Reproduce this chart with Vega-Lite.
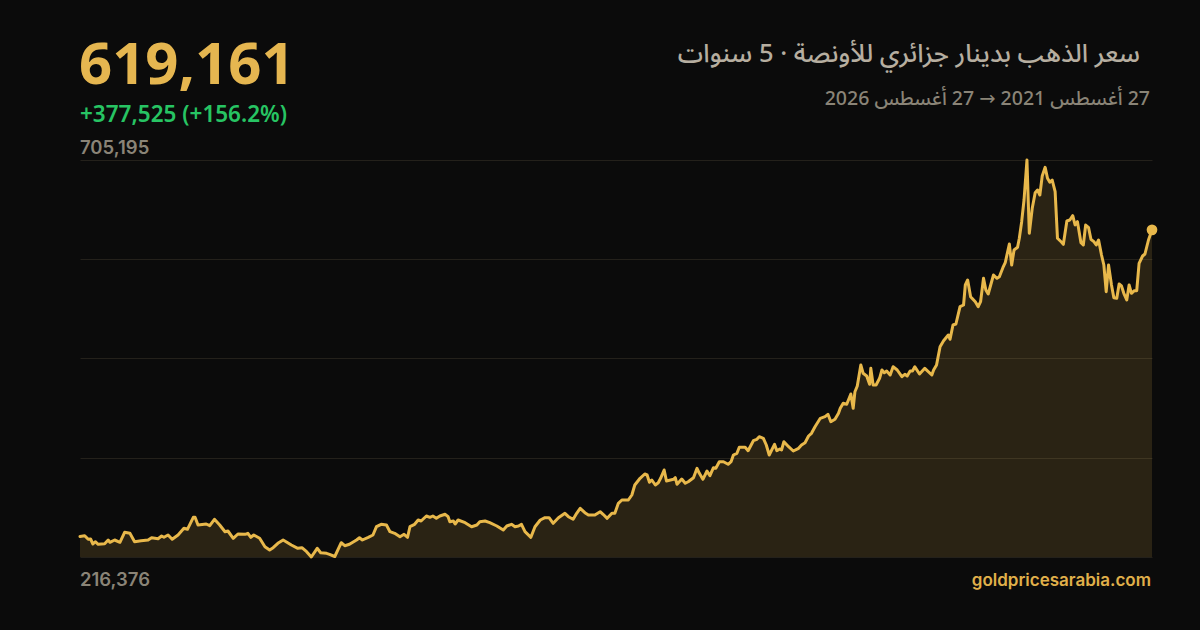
{
  "$schema": "https://vega.github.io/schema/vega-lite/v6.json",
  "width": 1072,
  "height": 397,
  "autosize": {"type": "none"},
  "padding": {"left": 80, "top": 160, "right": 48, "bottom": 73},
  "background": "#0b0b0b",
  "config": {"view": {"stroke": null}},
  "datasets": {
    "series": [
      {"day":0,"price":241636},{"day":8,"price":242602},{"day":14,"price":238170},{"day":18,"price":238539},{"day":22,"price":232383},{"day":26,"price":235215},{"day":31,"price":232013},{"day":42,"price":232752},{"day":48,"price":237308},{"day":51,"price":234476},{"day":59,"price":237308},{"day":68,"price":234476},{"day":76,"price":246789},{"day":85,"price":245557},{"day":93,"price":235215},{"day":104,"price":236446},{"day":116,"price":237308},{"day":122,"price":240140},{"day":133,"price":238908},{"day":139,"price":242233},{"day":143,"price":240632},{"day":150,"price":243464},{"day":157,"price":238170},{"day":167,"price":243464},{"day":177,"price":251714},{"day":183,"price":250482},{"day":193,"price":265258},{"day":196,"price":265258},{"day":201,"price":255777},{"day":215,"price":257008},{"day":221,"price":254915},{"day":229,"price":262795},{"day":238,"price":255777},{"day":247,"price":247527},{"day":252,"price":248389},{"day":261,"price":239401},{"day":269,"price":244695},{"day":281,"price":244326},{"day":286,"price":245557},{"day":291,"price":240632},{"day":296,"price":243464},{"day":306,"price":239401},{"day":315,"price":229058},{"day":323,"price":224995},{"day":329,"price":227827},{"day":337,"price":233245},{"day":346,"price":237308},{"day":351,"price":235215},{"day":360,"price":231151},{"day":371,"price":227088},{"day":378,"price":227827},{"day":386,"price":222902},{"day":394,"price":216376},{"day":404,"price":227088},{"day":410,"price":221671},{"day":420,"price":220932},{"day":425,"price":219700},{"day":434,"price":216992},{"day":445,"price":233983},{"day":451,"price":230289},{"day":459,"price":232013},{"day":471,"price":237308},{"day":476,"price":240140},{"day":481,"price":237308},{"day":491,"price":240632},{"day":499,"price":243464},{"day":505,"price":253684},{"day":513,"price":256639},{"day":522,"price":255777},{"day":528,"price":247527},{"day":536,"price":245557},{"day":545,"price":241371},{"day":552,"price":244326},{"day":558,"price":240632},{"day":562,"price":253684},{"day":570,"price":256639},{"day":576,"price":261933},{"day":581,"price":260702},{"day":590,"price":266858},{"day":596,"price":265258},{"day":601,"price":266858},{"day":607,"price":264026},{"day":613,"price":266858},{"day":622,"price":268952},{"day":627,"price":265997},{"day":630,"price":259840},{"day":636,"price":260702},{"day":639,"price":257008},{"day":644,"price":261933},{"day":656,"price":258609},{"day":667,"price":253684},{"day":676,"price":255777},{"day":681,"price":259840},{"day":690,"price":260702},{"day":698,"price":258609},{"day":710,"price":254546},{"day":721,"price":249621},{"day":727,"price":254546},{"day":735,"price":256639},{"day":741,"price":253684},{"day":747,"price":254546},{"day":752,"price":256639},{"day":758,"price":247527},{"day":768,"price":240632},{"day":775,"price":253684},{"day":784,"price":261933},{"day":792,"price":264765},{"day":799,"price":264765},{"day":806,"price":257870},{"day":815,"price":264765},{"day":826,"price":270183},{"day":832,"price":265997},{"day":840,"price":262795},{"day":846,"price":270183},{"day":852,"price":276339},{"day":860,"price":270922},{"day":866,"price":268090},{"day":877,"price":268090},{"day":886,"price":272153},{"day":891,"price":268952},{"day":898,"price":264026},{"day":906,"price":270183},{"day":911,"price":270183},{"day":917,"price":282496},{"day":923,"price":286559},{"day":934,"price":286559},{"day":940,"price":292715},{"day":945,"price":305028},{"day":954,"price":313278},{"day":962,"price":318572},{"day":966,"price":317341},{"day":970,"price":308353},{"day":974,"price":311185},{"day":980,"price":305028},{"day":985,"price":307860},{"day":989,"price":313278},{"day":995,"price":323497},{"day":999,"price":309953},{"day":1011,"price":312046},{"day":1014,"price":314016},{"day":1017,"price":305890},{"day":1025,"price":312416},{"day":1031,"price":307121},{"day":1036,"price":309091},{"day":1045,"price":314016},{"day":1051,"price":325590},{"day":1055,"price":319434},{"day":1061,"price":312046},{"day":1068,"price":322266},{"day":1073,"price":316479},{"day":1079,"price":326329},{"day":1083,"price":325590},{"day":1089,"price":333717},{"day":1096,"price":333717},{"day":1104,"price":330516},{"day":1109,"price":333717},{"day":1113,"price":341967},{"day":1119,"price":344060},{"day":1123,"price":351447},{"day":1133,"price":351447},{"day":1138,"price":347261},{"day":1147,"price":359574},{"day":1153,"price":361298},{"day":1157,"price":364499},{"day":1164,"price":362529},{"day":1169,"price":354279},{"day":1174,"price":341967},{"day":1183,"price":355141},{"day":1187,"price":347261},{"day":1192,"price":349354},{"day":1195,"price":348123},{"day":1199,"price":358343},{"day":1207,"price":352186},{"day":1215,"price":346892},{"day":1224,"price":350216},{"day":1229,"price":354279},{"day":1235,"price":357111},{"day":1241,"price":365361},{"day":1246,"price":368685},{"day":1252,"price":376812},{"day":1261,"price":387155},{"day":1269,"price":389125},{"day":1274,"price":392080},{"day":1279,"price":382968},{"day":1286,"price":385923},{"day":1292,"price":393311},{"day":1295,"price":399467},{"day":1300,"price":405624},{"day":1306,"price":404393},{"day":1313,"price":417075},{"day":1317,"price":399467},{"day":1320,"price":419907},{"day":1324,"price":426925},{"day":1330,"price":452782},{"day":1334,"price":442562},{"day":1340,"price":439238},{"day":1345,"price":429018},{"day":1347,"price":448718},{"day":1351,"price":428156},{"day":1356,"price":428156},{"day":1362,"price":436406},{"day":1366,"price":446625},{"day":1370,"price":443301},{"day":1374,"price":445394},{"day":1380,"price":440469},{"day":1385,"price":450689},{"day":1392,"price":446625},{"day":1400,"price":438376},{"day":1405,"price":441331},{"day":1409,"price":439238},{"day":1414,"price":445394},{"day":1418,"price":445394},{"day":1422,"price":450689},{"day":1430,"price":441700},{"day":1439,"price":448718},{"day":1451,"price":440469},{"day":1454,"price":446625},{"day":1459,"price":452782},{"day":1465,"price":475314},{"day":1471,"price":482702},{"day":1479,"price":489720},{"day":1482,"price":484426},{"day":1487,"price":502033},{"day":1492,"price":503264},{"day":1499,"price":524565},{"day":1505,"price":526659},{"day":1508,"price":551284},{"day":1512,"price":557441},{"day":1517,"price":536878},{"day":1525,"price":530722},{"day":1530,"price":524565},{"day":1534,"price":530722},{"day":1539,"price":559534},{"day":1543,"price":545128},{"day":1547,"price":540203},{"day":1556,"price":563597},{"day":1562,"price":559534},{"day":1566,"price":561504},{"day":1572,"price":572585},{"day":1576,"price":578742},{"day":1583,"price":601767},{"day":1587,"price":575910},{"day":1591,"price":594379},{"day":1597,"price":597703},{"day":1600,"price":608785},{"day":1604,"price":629224},{"day":1608,"price":655943},{"day":1613,"price":705195},{"day":1617,"price":614941},{"day":1622,"price":645723},{"day":1627,"price":664931},{"day":1631,"price":668256},{"day":1635,"price":662099},{"day":1639,"price":685494},{"day":1644,"price":696206},{"day":1648,"price":682662},{"day":1652,"price":677737},{"day":1656,"price":680569},{"day":1661,"price":666163},{"day":1665,"price":608785},{"day":1672,"price":603860},{"day":1675,"price":601398},{"day":1681,"price":630086},{"day":1686,"price":631317},{"day":1691,"price":636612},{"day":1695,"price":625161},{"day":1699,"price":629224},{"day":1705,"price":603367},{"day":1709,"price":600535},{"day":1713,"price":625161},{"day":1718,"price":621836},{"day":1722,"price":607554},{"day":1727,"price":604599},{"day":1731,"price":600535},{"day":1735,"price":606692},{"day":1740,"price":588223},{"day":1744,"price":575910},{"day":1748,"price":543035},{"day":1752,"price":575910},{"day":1757,"price":551284},{"day":1761,"price":535647},{"day":1766,"price":534908},{"day":1770,"price":552515},{"day":1774,"price":550053},{"day":1778,"price":541065},{"day":1783,"price":532815},{"day":1787,"price":551284},{"day":1791,"price":541065},{"day":1796,"price":544266},{"day":1800,"price":544266},{"day":1804,"price":578003},{"day":1810,"price":586991},{"day":1814,"price":589454},{"day":1820,"price":606692},{"day":1826,"price":619161}
    ]
  },
  "encoding": {
    "x": {"type": "quantitative", "scale": {"domain": [0, 1826], "nice": false, "zero": false}, "axis": null},
    "y": {"type": "quantitative", "scale": {"domain": [216376, 705195], "nice": false, "zero": false}}
  },
  "layer": [
    {
      "data": {"name": "series"},
      "mark": {"type": "area", "color": "#e8b84b", "fillOpacity": 0.14, "interpolate": "linear"},
      "encoding": {
        "x": {"field": "day", "type": "quantitative"},
        "y": {"field": "price", "type": "quantitative", "axis": {"values": [216376, 338581, 460786, 582990, 705195], "labels": false, "ticks": false, "domain": false, "title": null, "grid": true, "gridColor": "#24211b", "gridWidth": 1}},
        "y2": {"datum": 216376}
      }
    },
    {
      "data": {"name": "series"},
      "mark": {"type": "line", "color": "#e8b84b", "strokeWidth": 3, "strokeJoin": "round", "strokeCap": "round"},
      "encoding": {
        "x": {"field": "day", "type": "quantitative"},
        "y": {"field": "price", "type": "quantitative"}
      }
    },
    {
      "data": {"name": "series"},
      "transform": [{"filter": {"field": "day", "equal": 1826}}],
      "mark": {"type": "circle", "color": "#e8b84b", "opacity": 1, "size": 115},
      "encoding": {
        "x": {"field": "day", "type": "quantitative"},
        "y": {"field": "price", "type": "quantitative"}
      }
    },
    {
      "data": {"values": [{"t": "619,161"}]},
      "mark": {"type": "text", "align": "left", "baseline": "alphabetic", "dy": -76, "dx": -1, "font": "Noto Sans", "fontSize": 58, "fontWeight": "bold", "color": "#e5b650"},
      "encoding": {"x": {"datum": 0}, "y": {"datum": 705195}, "text": {"field": "t"}}
    },
    {
      "data": {"values": [{"t": "+377,525 (+156.2%)"}]},
      "mark": {"type": "text", "align": "left", "baseline": "alphabetic", "dy": -38, "font": "Noto Sans", "fontSize": 22.5, "fontWeight": 600, "color": "#27c463"},
      "encoding": {"x": {"datum": 0}, "y": {"datum": 705195}, "text": {"field": "t"}}
    },
    {
      "data": {"values": [{"t": "705,195"}]},
      "mark": {"type": "text", "align": "left", "baseline": "alphabetic", "dy": -6, "font": "Inter", "fontSize": 18.5, "fontWeight": 600, "color": "#8a8477"},
      "encoding": {"x": {"datum": 0}, "y": {"datum": 705195}, "text": {"field": "t"}}
    },
    {
      "data": {"values": [{"t": "216,376"}]},
      "mark": {"type": "text", "align": "left", "baseline": "alphabetic", "dy": 29, "font": "Inter", "fontSize": 18.5, "fontWeight": 600, "color": "#8a8477"},
      "encoding": {"x": {"datum": 0}, "y": {"datum": 216376}, "text": {"field": "t"}}
    },
    {
      "data": {"values": [{"t": "goldpricesarabia.com"}]},
      "mark": {"type": "text", "align": "right", "baseline": "alphabetic", "dy": 29, "dx": -1, "font": "Inter", "fontSize": 17, "fontWeight": 600, "color": "#e0b04a"},
      "encoding": {"x": {"datum": 1826}, "y": {"datum": 216376}, "text": {"field": "t"}}
    },
    {
      "data": {"values": [{"t": "\u200fسعر الذهب بدينار جزائري للأونصة · 5 سنوات"}]},
      "mark": {"type": "text", "align": "right", "baseline": "middle", "dy": -106, "dx": -12, "font": "Noto Sans Arabic, DejaVu Sans, sans-serif", "fontSize": 25.5, "fontWeight": 500, "color": "#b6aea0"},
      "encoding": {"x": {"datum": 1826}, "y": {"datum": 705195}, "text": {"field": "t"}}
    },
    {
      "data": {"values": [{"t": "\u200f27 أغسطس 2021 → 27 أغسطس 2026"}]},
      "mark": {"type": "text", "align": "right", "baseline": "middle", "dy": -61, "dx": -2, "font": "Noto Sans Arabic, DejaVu Sans, sans-serif", "fontSize": 19.5, "fontWeight": 500, "color": "#8a8477"},
      "encoding": {"x": {"datum": 1826}, "y": {"datum": 705195}, "text": {"field": "t"}}
    }
  ]
}
